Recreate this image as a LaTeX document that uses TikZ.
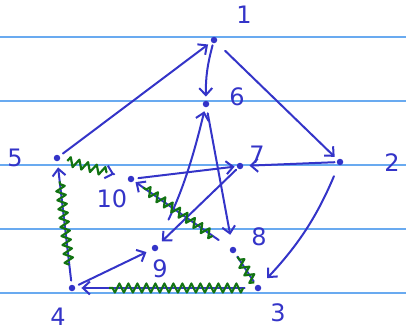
\documentclass[tikz,border=0pt]{standalone}
\usepackage{fontspec}
\setmainfont{DejaVu Sans}
\usetikzlibrary{arrows.meta,decorations.pathmorphing,calc}
\definecolor{pen}{RGB}{52,52,200}
\definecolor{gpen}{RGB}{18,115,18}
\definecolor{rulecol}{RGB}{105,170,240}
\begin{document}
\begin{tikzpicture}[
  x=1pt, y=-1pt,
  nd/.style={circle, fill=pen, inner sep=0pt, minimum size=6.5pt},
  lbl/.style={text=pen, font=\fontsize{24}{26}\selectfont, inner sep=0pt},
  arc/.style={draw=pen, line width=2pt, line cap=round,
    -{Straight Barb[length=7pt,width=13pt,line width=2pt]}},
  wavy/.style={draw=gpen, line width=2.2pt, line join=round,
    decorate, decoration={zigzag, amplitude=4.5pt, segment length=9pt}}
]
\useasboundingbox (0,0) rectangle (406,335);
% ---------------- ruled paper ----------------
\foreach \y in {37,101,165,229,293}
  \draw[rulecol, line width=1.2pt] (0,\y) -- (406,\y);
% ---------------- vertices ----------------
\node[nd] (v1) at (214,40) {};
\node[nd] (v2) at (340,162) {};
\node[nd] (v3) at (258,288) {};
\node[nd] (v4) at (72,288) {};
\node[nd] (v5) at (57,158) {};
\node[nd] (v6) at (206,104) {};
\node[nd] (v7) at (240,166) {};
\node[nd] (v8) at (233,250) {};
\node[nd] (v9) at (155,248) {};
\node[nd] (v10) at (131,179) {};
\node[lbl] (l1) at (244,15) {1};
\node[lbl] (l2) at (392,163) {2};
\node[lbl] (l3) at (278,313) {3};
\node[lbl] (l4) at (58,317) {4};
\node[lbl] (l5) at (15,158) {5};
\node[lbl] (l6) at (237,97) {6};
\node[lbl] (l7) at (257,155) {7};
\node[lbl] (l8) at (259,237) {8};
\node[lbl] (l9) at (160,269) {9};
\node[lbl] (l10) at (112,199) {10};
% ---------------- outer arcs ----------------
\draw[arc, shorten >=4pt, shorten <=4pt] (v5) -- (v1);
\draw[arc, shorten >=4pt, shorten <=2pt] (v1) to[bend right=8] (v6);
\draw[arc, shorten >=4pt, shorten <=12pt] (v1) -- (v2);
\draw[arc, shorten >=6pt, shorten <=2pt] (v2) -- (v7);
\draw[arc, shorten >=10pt, shorten <=12pt] (v2) to[bend left=10] (v3);
\draw[arc, shorten >=6pt, shorten <=4pt] (v4) -- (v9);
% ---------------- star ----------------
\draw[arc, shorten >=2pt, shorten <=4pt] (v10) -- (v7);
\draw[arc, shorten >=6pt, shorten <=2pt] (v7) -- (v9);
\draw[arc, shorten >=4pt, shorten <=28pt] (v9) to[bend right=6] (v6);
\draw[arc, shorten >=12pt, shorten <=6pt] (v6) -- (v8);
\draw[arc, shorten >=2pt, shorten <=14pt] (v8) -- (v10);
% ---------------- green cycle ----------------
\draw[arc, shorten >=6pt, shorten <=10pt] (v3) -- (v4);
\draw[arc, shorten >=6pt, shorten <=4pt] (v4) -- (v5);
\draw[arc, shorten >=14pt, shorten <=56pt] (v5) -- (v10);
\draw[draw=pen, line width=2pt, shorten >=4pt, shorten <=4pt] (v3) -- (v8);
\draw[wavy] ($(v4)!0.18!(v5)$) -- ($(v4)!0.82!(v5)$);
\draw[wavy] ($(v5)!0.14!(v10)$) -- ($(v5)!0.68!(v10)$);
\draw[wavy] ($(v8)!0.20!(v10)$) -- ($(v8)!0.88!(v10)$);
\draw[wavy] ($(v3)!0.15!(v8)$) -- ($(v3)!0.82!(v8)$);
\draw[wavy] ($(v3)!0.08!(v4)$) -- ($(v3)!0.80!(v4)$);
\end{tikzpicture}
\end{document}
